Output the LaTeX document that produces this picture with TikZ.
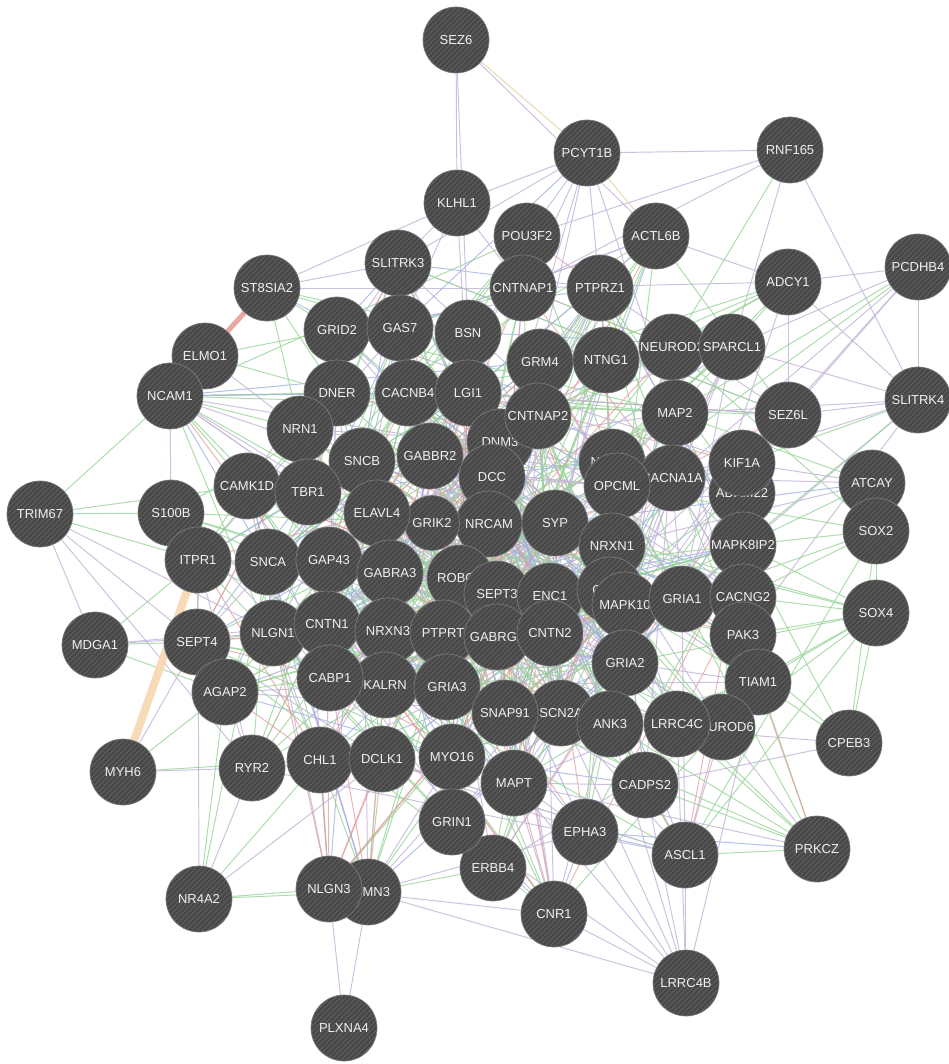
\documentclass[tikz,border=0pt]{standalone}
\usepackage{fontspec}
\setsansfont{Liberation Sans}
\usetikzlibrary{patterns}

\definecolor{genefill}{RGB}{72,72,72}
\definecolor{genestripe}{RGB}{100,100,100}
\definecolor{generim}{RGB}{125,125,125}
\definecolor{edgelav}{RGB}{196,182,218}
\definecolor{edgegreen}{RGB}{150,212,150}
\definecolor{edgeblue}{RGB}{160,178,228}
\definecolor{edgepink}{RGB}{228,150,150}
\definecolor{edgetan}{RGB}{232,214,168}
\definecolor{thicktan}{RGB}{247,214,176}
\definecolor{thickpink}{RGB}{234,168,160}

\pgfdeclarelayer{edges}
\pgfsetlayers{edges,main}

\tikzset{
  gene/.style={circle, minimum size=1.32cm, inner sep=0pt, fill=genefill,
    draw=generim, line width=0.4pt, text=white!94!black,
    font=\sffamily\fontsize{7.4}{8}\selectfont,
    postaction={pattern=north east lines, pattern color=genestripe}},
  smallgene/.style={gene, minimum size=1.1cm},
  lavlink/.style={edgelav, line width=0.55pt, opacity=0.85},
  greenlink/.style={edgegreen, line width=0.55pt, opacity=0.8},
  bluelink/.style={edgeblue, line width=0.55pt, opacity=0.8},
  pinklink/.style={edgepink, line width=0.55pt, opacity=0.7},
  tanlink/.style={edgetan, line width=0.55pt, opacity=0.9},
  corelink0/.style={greenlink},
  corelink1/.style={lavlink},
  corelink2/.style={greenlink},
  corelink3/.style={bluelink},
  corelink4/.style={pinklink},
  corelink5/.style={greenlink},
  corelink6/.style={lavlink},
}

% genes picked for the dense middle of the net
\def\corelist{{"POU3F2","ACTL6B","SLITRK3","CNTNAP1","PTPRZ1","GRID2","GAS7","BSN","GRM4","NTNG1","NEUROD2","SPARCL1","DNER","CACNB4","LGI1","CNTNAP2","MAP2","SEZ6L","NRN1","DNM3","SNCB","GABBR2","DCC","NTRK2","CACNA1A","OPCML","KIF1A","ADAM22","CAMK1D","TBR1","S100B","ELAVL4","GRIK2","NRCAM","SYP","NRXN1","MAPK8IP2","ITPR1","SNCA","GAP43","GABRA3","ROBO2","SEPT3","ENC1","GAD1","MAPK10","GRIA1","CACNG2","SEPT4","NLGN1","CNTN1","NRXN3","PTPRT","GABRG2","CNTN2","GRIA2","PAK3","AGAP2","CABP1","KALRN","TIAM1","GRIA3","SNAP91","SCN2A","ANK3","LRRC4C","NEUROD6","RYR2","CHL1","DCLK1","MYO16","MAPT","CADPS2","GRIN1","EPHA3","ERBB4","ASCL1","NLGN3","STMN3","CNR1","NCAM1"}}
\def\innerlist{{"SNCB","GABBR2","DCC","DNM3","ELAVL4","GRIK2","NRCAM","SYP","NRXN1","OPCML","GABRA3","ROBO2","SEPT3","ENC1","GAD1","MAPK10","NRXN3","PTPRT","GABRG2","CNTN2","GRIA2","GRIA3","SNAP91","SCN2A","CNTNAP2","LGI1","CACNB4","GAP43","CNTN1","KALRN","CABP1","GRIA1","MAPT","MYO16"}}

\begin{document}
\begin{tikzpicture}[x=0.02cm, y=-0.02cm]
  \useasboundingbox (0,0) rectangle (948,1064);

  % genes, back to front
  \foreach \g/\x/\y in {SEZ6/456/40, PCYT1B/587/153, RNF165/790/150, KLHL1/457/203,
      POU3F2/527/236, ACTL6B/656/236, SLITRK3/398/263, CNTNAP1/523/288, PTPRZ1/600/288,
      ADCY1/788/282, PCDHB4/918/267, ST8SIA2/267/288, GRID2/337/330, GAS7/400/328,
      BSN/468/333, GRM4/540/362, NTNG1/606/360, NEUROD2/672/347, SPARCL1/732/347,
      ELMO1/205/356, NCAM1/170/396, DNER/337/393, CACNB4/408/393, LGI1/468/393,
      DNM3/500/442, CNTNAP2/538/416, MAP2/675/413, SEZ6L/788/415, SLITRK4/918/400,
      NRN1/300/429, SNCB/362/461, GABBR2/430/456, DCC/492/477, CAMK1D/247/486,
      TBR1/308/492, S100B/171/513, ITPR1/198/560, NRCAM/489/524}
    \node[gene] (\g) at (\x,\y) {\g};
  \node[smallgene] (GRIK2) at (432,523) {GRIK2};
  \foreach \g/\x/\y in {ELAVL4/377/513,
      SYP/555/523, NTRK2/612/462, CACNA1A/672/478, OPCML/617/486,
      NRXN1/612/546, ADAM22/742/493, KIF1A/742/463, MAPK8IP2/743/545, ATCAY/872/483,
      SOX2/876/531, TRIM67/40/514, SNCA/268/562, GAP43/329/560, GABRA3/390/573,
      ROBO2/460/578, SEPT3/497/594, ENC1/550/596, GAD1/610/590, MAPK10/625/605,
      GRIA1/682/599, CACNG2/743/597, SOX4/876/613, MDGA1/95/645, SEPT4/197/642,
      AGAP2/225/692, NLGN1/273/633, CNTN1/327/624, NRXN3/388/631, PTPRT/443/633,
      GABRG2/497/637, CNTN2/550/633, GRIA2/625/663, PAK3/743/635, TIAM1/758/682,
      KALRN/385/685, CABP1/330/678, GRIA3/447/687, SCN2A/561/713, SNAP91/505/713,
      ANK3/610/724, NEUROD6/722/727, LRRC4C/677/724, CPEB3/849/743, MYH6/123/772,
      RYR2/252/768, CHL1/320/760, DCLK1/382/759, MYO16/452/757, MAPT/514/783,
      CADPS2/645/785, EPHA3/585/832, ERBB4/493/868, GRIN1/452/822, ASCL1/685/855,
      PRKCZ/817/849, NR4A2/199/899, STMN3/368/892, NLGN3/329/889, CNR1/554/914,
      LRRC4B/686/983, PLXNA4/344/1028}
    \node[gene] (\g) at (\x,\y) {\g};

  \begin{pgfonlayer}{edges}
    \fill[white] (0,0) rectangle (948,1064);

    % dense middle
    \pgfmathsetseed{1964}
    \foreach \i in {1,...,520}{
      \pgfmathtruncatemacro\ia{random(0,80)}
      \pgfmathtruncatemacro\ib{random(0,80)}
      \pgfmathparse{\corelist[\ia]}\edef\na{\pgfmathresult}
      \pgfmathparse{\corelist[\ib]}\edef\nb{\pgfmathresult}
      \pgfmathtruncatemacro\ci{mod(\i,7)}
      \ifx\na\nb\else\draw[corelink\ci] (\na) -- (\nb);\fi
    }
    \foreach \i in {1,...,330}{
      \pgfmathtruncatemacro\ia{random(0,33)}
      \pgfmathtruncatemacro\ib{random(0,33)}
      \pgfmathparse{\innerlist[\ia]}\edef\na{\pgfmathresult}
      \pgfmathparse{\innerlist[\ib]}\edef\nb{\pgfmathresult}
      \pgfmathtruncatemacro\ci{mod(\i,5)+2}
      \ifx\na\nb\else\draw[corelink\ci] (\na) -- (\nb);\fi
    }

    % outer ring
    \foreach \a/\b in {SEZ6/KLHL1, SEZ6/BSN, SEZ6/ACTL6B, PCYT1B/KLHL1, PCYT1B/POU3F2,
        PCYT1B/CNTNAP1, PCYT1B/GRM4, PCYT1B/NTNG1, PCYT1B/DCC, PCYT1B/SLITRK3, PCYT1B/MAP2,
        RNF165/POU3F2, RNF165/CNTNAP1, RNF165/SPARCL1, RNF165/SLITRK4, RNF165/PCYT1B,
        PCDHB4/ADCY1, PCDHB4/SLITRK4, PCDHB4/SEZ6L, PCDHB4/SPARCL1, PCDHB4/KIF1A,
        PCDHB4/CACNA1A, ADCY1/SEZ6L, ADCY1/SLITRK4, ADCY1/ACTL6B, ADCY1/CNTNAP1,
        ADCY1/GRIA1, SLITRK4/SEZ6L, SLITRK4/SPARCL1, SLITRK4/CACNA1A, SLITRK4/GRIA1,
        SLITRK4/PAK3, SLITRK4/MAP2, ATCAY/KIF1A, ATCAY/CACNA1A, ATCAY/SEZ6L, ATCAY/NRXN1,
        CPEB3/CADPS2, CPEB3/ANK3, PRKCZ/NEUROD6, PRKCZ/MAPT, LRRC4B/ASCL1, LRRC4B/CADPS2,
        LRRC4B/EPHA3, LRRC4B/CNR1, LRRC4B/ANK3, LRRC4B/MAPT, LRRC4B/GRIN1, LRRC4B/STMN3,
        LRRC4B/SCN2A, LRRC4B/TIAM1, LRRC4B/LRRC4C, ASCL1/NEUROD6, ASCL1/SCN2A, CNR1/MAPT,
        CNR1/GRIN1, CNR1/NLGN3, PLXNA4/STMN3, PLXNA4/NLGN3, NR4A2/RYR2, NR4A2/ITPR1,
        NR4A2/DCLK1, MYH6/RYR2, MYH6/SEPT4, MDGA1/TRIM67, MDGA1/NLGN1, MDGA1/CNTN1,
        TRIM67/SEPT4, TRIM67/NLGN1, TRIM67/RYR2, ST8SIA2/SLITRK3, ST8SIA2/KLHL1,
        ST8SIA2/CNTNAP1, NCAM1/SNCB, NCAM1/TBR1, NCAM1/S100B, ELMO1/NRN1, KLHL1/SLITRK3,
        KLHL1/GAS7, KLHL1/CNTNAP1, KLHL1/LGI1, STMN3/EPHA3, RYR2/ITPR1}
      \draw[lavlink] (\a) -- (\b);
    \foreach \a/\b in {ADCY1/NEUROD2, ADCY1/MAP2, ADCY1/GRM4, ADCY1/NTNG1, ADCY1/CNTNAP2,
        ADCY1/SYP, PCDHB4/MAP2, PCDHB4/OPCML, ATCAY/MAPK8IP2, ATCAY/MAP2, SOX2/MAPK8IP2,
        SOX2/CACNG2, SOX2/SOX4, SOX2/ASCL1, SOX2/NEUROD2, SOX2/GRIA1, SOX4/CACNG2, SOX4/PAK3,
        SOX4/MAPK8IP2, SOX4/TIAM1, SOX4/ASCL1, SOX4/NEUROD6, SOX4/LRRC4C, SOX4/GRIA2,
        SOX4/CPEB3, SOX4/NRXN1, CPEB3/SOX2, CPEB3/MAPK8IP2, CPEB3/GRIA1, CPEB3/TIAM1,
        PRKCZ/CADPS2, PRKCZ/ANK3, PRKCZ/SNAP91, PRKCZ/ASCL1, PRKCZ/GRIA2, PRKCZ/LRRC4C,
        PRKCZ/GRIA1, PRKCZ/PAK3, NR4A2/NLGN3, NR4A2/STMN3, NR4A2/CHL1, NR4A2/AGAP2,
        NR4A2/SNCA, STMN3/ERBB4, MYH6/CHL1, MYH6/AGAP2, MDGA1/ITPR1, MDGA1/SEPT4,
        MDGA1/AGAP2, TRIM67/NCAM1, TRIM67/S100B, TRIM67/ITPR1, TRIM67/CAMK1D,
        ST8SIA2/GRID2, ST8SIA2/DNER, ST8SIA2/GAS7, ST8SIA2/NCAM1, ST8SIA2/NRN1, ST8SIA2/BSN,
        NCAM1/DNER, NCAM1/NRN1, NCAM1/CAMK1D, NCAM1/GAP43, ELMO1/DNER, ELMO1/GRID2,
        RNF165/NEUROD2, SLITRK4/MAPK8IP2, SLITRK4/KIF1A, SOX4/SYP, SOX2/OPCML}
      \draw[greenlink] (\a) -- (\b);
    \foreach \a/\b in {PCYT1B/GAS7, PRKCZ/EPHA3, NCAM1/CACNB4, NCAM1/SNCA, ASCL1/EPHA3,
        CNR1/EPHA3, SLITRK3/GRID2, ST8SIA2/LGI1, ATCAY/SYP, ASCL1/SYP}
      \draw[bluelink] (\a) -- (\b);
    \foreach \a/\b in {PRKCZ/TIAM1, NLGN3/CHL1, NLGN3/DCLK1, NLGN3/NLGN1, NLGN3/NRXN1,
        STMN3/DCLK1, NLGN3/CNTN1, ITPR1/SNCA, STMN3/CABP1}
      \draw[pinklink] (\a) -- (\b);
    \draw[tanlink] (SEZ6) -- (PCYT1B);
    \draw[tanlink] (PCYT1B) -- (ACTL6B);

    % the two heavy links
    \draw[thicktan, line width=0.16cm, opacity=0.9] (MYH6) -- (ITPR1);
    \draw[thickpink, line width=0.1cm] (ST8SIA2) -- (ELMO1);
  \end{pgfonlayer}
\end{tikzpicture}
\end{document}
